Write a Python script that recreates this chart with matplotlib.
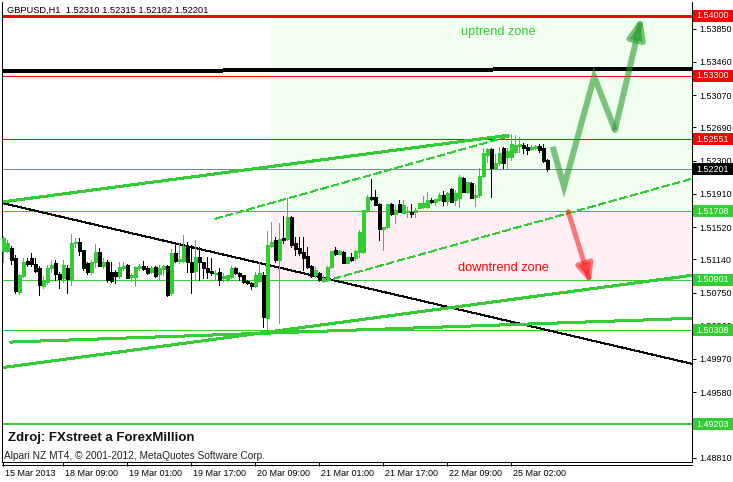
import matplotlib
matplotlib.use('Agg')
import matplotlib.pyplot as plt
from matplotlib.lines import Line2D
from matplotlib.patches import Rectangle
import numpy as np

plt.rcParams['font.family'] = ['Liberation Sans', 'DejaVu Sans']

W, H = 733, 482
LIME = '#32CD32'

# GBPUSD H1 candles
opens = [1.51239, 1.51239, 1.51274, 1.51156, 1.50757, 1.50945, 1.51121, 1.51156, 1.51086, 1.51039,
         1.50827, 1.50874, 1.51039, 1.51098, 1.50968, 1.50921, 1.51039, 1.50910, 1.51333, 1.51344,
         1.51250, 1.51098, 1.50992, 1.51109, 1.51227, 1.51062, 1.51109, 1.50992, 1.50992, 1.50945,
         1.51039, 1.51074, 1.50933, 1.50933, 1.51039, 1.51062, 1.51039, 1.50992, 1.51051, 1.50968,
         1.51027, 1.51062, 1.50745, 1.51215, 1.51121, 1.51121, 1.51286, 1.51109, 1.51004, 1.51168,
         1.51109, 1.51039, 1.51004, 1.50968, 1.50992, 1.50921, 1.50910, 1.50933, 1.51039, 1.50980,
         1.50957, 1.50886, 1.50863, 1.50827, 1.50886, 1.50957, 1.50452, 1.51297, 1.51368, 1.51133,
         1.51391, 1.51380, 1.51638, 1.51333, 1.51274, 1.51227, 1.51180, 1.51062, 1.50957, 1.50980,
         1.50910, 1.50921, 1.51051, 1.51250, 1.51203, 1.51227, 1.51098, 1.51168, 1.51156, 1.51227,
         1.51227, 1.51720, 1.51873, 1.51873, 1.51791, 1.51497, 1.51521, 1.51791, 1.51673, 1.51791,
         1.51685, 1.51697, 1.51697, 1.51697, 1.51744, 1.51756, 1.51756, 1.51838, 1.51814, 1.51838,
         1.51897, 1.51826, 1.51967, 1.51838, 1.51861, 1.52096, 1.51932, 1.52038, 1.51873, 1.51897,
         1.52120, 1.52367, 1.52437, 1.52214, 1.52273, 1.52449, 1.52343, 1.52343, 1.52402, 1.52472,
         1.52484, 1.52461, 1.52437, 1.52449, 1.52472, 1.52449, 1.52310]
highs = [1.51415, 1.51368, 1.51297, 1.51192, 1.50968, 1.51156, 1.51156, 1.51215, 1.51156, 1.51062,
         1.50945, 1.51074, 1.51133, 1.51133, 1.50992, 1.51133, 1.51074, 1.51438, 1.51391, 1.51391,
         1.51250, 1.51109, 1.51133, 1.51321, 1.51274, 1.51156, 1.51133, 1.51109, 1.51015, 1.51109,
         1.51109, 1.51086, 1.50980, 1.51062, 1.51086, 1.51121, 1.51062, 1.51062, 1.51062, 1.51074,
         1.51074, 1.51074, 1.51262, 1.51333, 1.51333, 1.51427, 1.51344, 1.51309, 1.51368, 1.51286,
         1.51109, 1.51168, 1.51156, 1.51015, 1.51039, 1.50980, 1.50957, 1.51062, 1.51051, 1.50992,
         1.50957, 1.50898, 1.50874, 1.50992, 1.51109, 1.50992, 1.51474, 1.51580, 1.51403, 1.51568,
         1.51650, 1.51861, 1.51650, 1.51403, 1.51403, 1.51403, 1.51286, 1.51074, 1.51051, 1.50992,
         1.50957, 1.51062, 1.51239, 1.51286, 1.51250, 1.51239, 1.51168, 1.51215, 1.51250, 1.51485,
         1.51720, 1.51897, 1.52085, 1.51955, 1.51803, 1.51521, 1.51791, 1.51803, 1.51779, 1.51838,
         1.51838, 1.51756, 1.51791, 1.51744, 1.51803, 1.51885, 1.51932, 1.51861, 1.51850, 1.51920,
         1.51944, 1.51932, 1.51979, 1.51955, 1.52132, 1.52108, 1.52049, 1.52049, 1.52014, 1.52214,
         1.52449, 1.52449, 1.52449, 1.52378, 1.52461, 1.52461, 1.52449, 1.52613, 1.52602, 1.52578,
         1.52508, 1.52496, 1.52484, 1.52484, 1.52496, 1.52496, 1.52315]
lows = [1.51109, 1.51227, 1.51086, 1.50745, 1.50734, 1.50933, 1.51062, 1.51062, 1.50992, 1.50722,
        1.50804, 1.50851, 1.50992, 1.50898, 1.50804, 1.50874, 1.50745, 1.50839, 1.51286, 1.51192,
        1.51015, 1.50968, 1.50968, 1.51051, 1.51062, 1.51039, 1.50874, 1.50874, 1.50863, 1.50921,
        1.51015, 1.50921, 1.50886, 1.50827, 1.51015, 1.51015, 1.50968, 1.50980, 1.50933, 1.50898,
        1.50957, 1.50710, 1.50722, 1.51109, 1.51098, 1.51109, 1.50992, 1.50745, 1.50898, 1.50898,
        1.50921, 1.50921, 1.50957, 1.50898, 1.50839, 1.50886, 1.50886, 1.50921, 1.50968, 1.50898,
        1.50863, 1.50851, 1.50792, 1.50816, 1.50874, 1.50346, 1.50275, 1.51286, 1.51109, 1.50393,
        1.51333, 1.51368, 1.51286, 1.51192, 1.51192, 1.51015, 1.51039, 1.50933, 1.50933, 1.50886,
        1.50874, 1.50921, 1.51039, 1.51192, 1.51203, 1.51098, 1.51098, 1.51121, 1.51133, 1.51168,
        1.51215, 1.51697, 1.51838, 1.51779, 1.51368, 1.51250, 1.51509, 1.51662, 1.51568, 1.51697,
        1.51685, 1.51638, 1.51638, 1.51638, 1.51744, 1.51744, 1.51744, 1.51803, 1.51779, 1.51826,
        1.51779, 1.51779, 1.51814, 1.51779, 1.51756, 1.51932, 1.51920, 1.51861, 1.51767, 1.51873,
        1.52108, 1.52284, 1.51873, 1.52214, 1.52249, 1.52214, 1.52214, 1.52308, 1.52390, 1.52402,
        1.52390, 1.52378, 1.52425, 1.52437, 1.52402, 1.52284, 1.52182]
closes = [1.51391, 1.51333, 1.51133, 1.50769, 1.50957, 1.51109, 1.51086, 1.51086, 1.51004, 1.50839,
          1.50898, 1.51039, 1.51074, 1.50968, 1.50910, 1.51074, 1.50910, 1.51333, 1.51344, 1.51239,
          1.51039, 1.50992, 1.51109, 1.51227, 1.51062, 1.51109, 1.50898, 1.50886, 1.50945, 1.51051,
          1.51062, 1.50921, 1.50957, 1.51051, 1.51062, 1.51027, 1.50980, 1.51039, 1.50945, 1.51039,
          1.51062, 1.50722, 1.51215, 1.51121, 1.51145, 1.51297, 1.51109, 1.50992, 1.51168, 1.51109,
          1.51039, 1.50992, 1.50980, 1.50980, 1.50898, 1.50945, 1.50957, 1.51039, 1.50980, 1.50945,
          1.50874, 1.50863, 1.50827, 1.50957, 1.50980, 1.50463, 1.51309, 1.51344, 1.51133, 1.51380,
          1.51368, 1.51638, 1.51309, 1.51262, 1.51215, 1.51156, 1.51051, 1.50945, 1.51015, 1.50898,
          1.50921, 1.51051, 1.51239, 1.51203, 1.51239, 1.51098, 1.51168, 1.51133, 1.51239, 1.51462,
          1.51720, 1.51873, 1.51850, 1.51779, 1.51497, 1.51521, 1.51791, 1.51673, 1.51720, 1.51697,
          1.51779, 1.51709, 1.51673, 1.51720, 1.51803, 1.51803, 1.51838, 1.51814, 1.51850, 1.51897,
          1.51826, 1.51920, 1.51814, 1.51920, 1.52108, 1.51932, 1.52049, 1.51861, 1.51897, 1.52120,
          1.52390, 1.52437, 1.52214, 1.52273, 1.52390, 1.52273, 1.52414, 1.52496, 1.52484, 1.52496,
          1.52449, 1.52425, 1.52461, 1.52472, 1.52425, 1.52296, 1.52201]

time_ticks = [0, 15, 31, 47, 63, 79, 95, 111, 127]
time_labels = ['15 Mar 2013', '18 Mar 09:00', '19 Mar 01:00', '19 Mar 17:00', '20 Mar 09:00',
               '21 Mar 01:00', '21 Mar 17:00', '22 Mar 09:00', '25 Mar 02:00']
price_ticks = [1.53850, 1.53460, 1.53070, 1.52690, 1.52300, 1.51910, 1.51520,
               1.51140, 1.50750, 1.50360, 1.49970, 1.49580, 1.48810]

# horizontal levels
level_prices = [1.54000, 1.53300, 1.52551, 1.52201, 1.51708, 1.50901, 1.50308, 1.49203]
level_colors = ['#FF0000', '#FF0000', '#FF0000', '#778899', LIME, LIME, LIME, LIME]
level_widths = [3, 1, 1, 1, 1, 1, 1, 2]
label_colors = ['#FF0000', '#FF0000', '#FF0000', '#000000', LIME, LIME, LIME, LIME]

# trendlines: bar and price at both ends
trend_bar1 = [-0.25, -0.25, -0.25, -0.25, 2, 53, 80]
trend_p1 = [1.53350, 1.51803, 1.51815, 1.49868, 1.50169, 1.51617, 1.50878]
trend_bar2 = [172.25, 172.25, 126.25, 172.25, 172.25, 126.75, 172.25]
trend_p2 = [1.53380, 1.49913, 1.52598, 1.50953, 1.50448, 1.52590, 1.52089]
trend_colors = ['black', 'black', LIME, LIME, LIME, LIME, LIME]
trend_widths = [3, 1, 2, 2, 2, 1, 1]
trend_styles = ['-', '-', '-', '-', '-', (0, (7, 3)), (0, (7, 3))]

# zones
zone_start = 66.9
up_zone = (1.51708, 1.54000)
down_zone = (1.50901, 1.51708)

# scenario arrows
up_arrow_bars = [137.4, 140.25, 147.8, 153.0, 159.7]
up_arrow_prices = [1.52464, 1.51994, 1.53287, 1.52661, 1.53992]
down_arrow_bars = [141.3, 146.9]
down_arrow_prices = [1.51701, 1.50859]

PX = 0.72  # one pixel in points at 100 dpi

fig = plt.figure(figsize=(W / 100, H / 100), dpi=100)
ax = fig.add_axes([2 / W, (H - 462) / H, 690 / W, 460 / H])
xmin, xmax = -0.25, 172.25
ymin, ymax = 1.487595, 1.541645
ax.set_xlim(xmin, xmax)
ax.set_ylim(ymin, ymax)
price_px = (ymax - ymin) / 460

# zones
ax.add_patch(Rectangle((zone_start, up_zone[0]), xmax + 5 - zone_start, up_zone[1] - up_zone[0],
                       facecolor='#F0FFF0', edgecolor='none', zorder=0))
ax.add_patch(Rectangle((zone_start, down_zone[0]), xmax + 5 - zone_start, down_zone[1] - down_zone[0],
                       facecolor='#FFF0F5', edgecolor='none', zorder=0))

for p, col, w in zip(level_prices, level_colors, level_widths):
    ax.axhline(p, color=col, lw=w * PX, antialiased=False, zorder=1)

for b1, p1, b2, p2, col, w, ls in zip(trend_bar1, trend_p1, trend_bar2, trend_p2,
                                        trend_colors, trend_widths, trend_styles):
    ax.plot([b1, b2], [p1, p2], color=col, lw=w * PX, ls=ls, antialiased=False, zorder=2)

# candles
o = np.array(opens); h = np.array(highs); l = np.array(lows); c = np.array(closes)
idx = np.arange(len(o))
cols = np.where(c > o, LIME, 'black')
ax.vlines(idx, l, h, colors=cols, lw=PX, antialiased=False, zorder=3)
ax.bar(idx, np.abs(c - o), bottom=np.minimum(o, c), width=0.75, color=cols,
       edgecolor=cols, lw=0.5, antialiased=False, zorder=3)

# arrows
g_col, g_alpha = '#2a9a2a', 0.6
ax.plot(up_arrow_bars[:-1], up_arrow_prices[:-1], color=g_col, alpha=g_alpha,
        lw=6 * PX, solid_joinstyle='miter', solid_capstyle='butt', zorder=4)
ax.annotate('', xy=(up_arrow_bars[-1], up_arrow_prices[-1]),
            xytext=(up_arrow_bars[-2], up_arrow_prices[-2]),
            arrowprops=dict(arrowstyle='-|>,head_length=0.6,head_width=0.25', mutation_scale=20,
                            lw=6 * PX, color=g_col, alpha=g_alpha, shrinkA=0, shrinkB=0),
            zorder=4)
ax.annotate('', xy=(down_arrow_bars[-1], down_arrow_prices[-1]),
            xytext=(down_arrow_bars[0], down_arrow_prices[0]),
            arrowprops=dict(arrowstyle='-|>,head_length=0.55,head_width=0.25', mutation_scale=20,
                            lw=5 * PX, color='#ff2222', alpha=0.6, shrinkA=0, shrinkB=0),
            zorder=4)

ax.text(114.5, 1.53812, 'uptrend zone', color=LIME, fontsize=9.2, ha='left', va='center', zorder=5)
ax.text(113.75, 1.51039, 'downtrend zone', color='#FF0000', fontsize=9.2, ha='left', va='center', zorder=5)

# axes look
ax.spines['top'].set_visible(False)
for side in ['left', 'right', 'bottom']:
    ax.spines[side].set_linewidth(PX)
ax.yaxis.tick_right()
ax.set_yticks(price_ticks)
ax.set_yticklabels(['%.5f' % p for p in price_ticks])
ax.tick_params(axis='y', length=3, width=PX, pad=2, labelsize=6.5)
ax.set_xticks(time_ticks)
ax.set_xticklabels([''] * len(time_ticks))
ax.tick_params(axis='x', length=3, width=PX, pad=1)
xtrans = ax.get_xaxis_transform()
for t, lab in zip(time_ticks, time_labels):
    ax.text(t + 0.6, -11 / 460, lab, transform=xtrans, fontsize=6.5, ha='left', va='center',
            clip_on=False)

# coloured price labels on the right scale
for p, col in zip(level_prices, label_colors):
    ax.add_patch(Rectangle((xmax + 0.25, p - 6 * price_px), 10.5, 12 * price_px,
                           facecolor=col, edgecolor='none', clip_on=False, zorder=6))
    ax.text(xmax + 1.0, p, '%.5f' % p, color='white', fontsize=6.5, ha='left', va='center',
            clip_on=False, zorder=7)

fig.text(7 / W, 1 - 10 / H, 'GBPUSD,H1  1.52310 1.52315 1.52182 1.52201', fontsize=6.7,
         ha='left', va='center', color='black')
fig.text(8 / W, 1 - 438 / H, 'Zdroj: FXstreet a ForexMillion', fontsize=9.5, fontweight='bold',
         ha='left', va='center', color='#111111')
fig.text(4 / W, 1 - 456 / H, 'Alpari NZ MT4, \u00a9 2001-2012, MetaQuotes Software Corp.', fontsize=7.3,
         ha='left', va='center', color='#222222')
fig.add_artist(Line2D([2 / W, 692 / W], [1 - 465 / H] * 2, color='black', lw=PX))

fig.savefig('out.png', dpi=100)
